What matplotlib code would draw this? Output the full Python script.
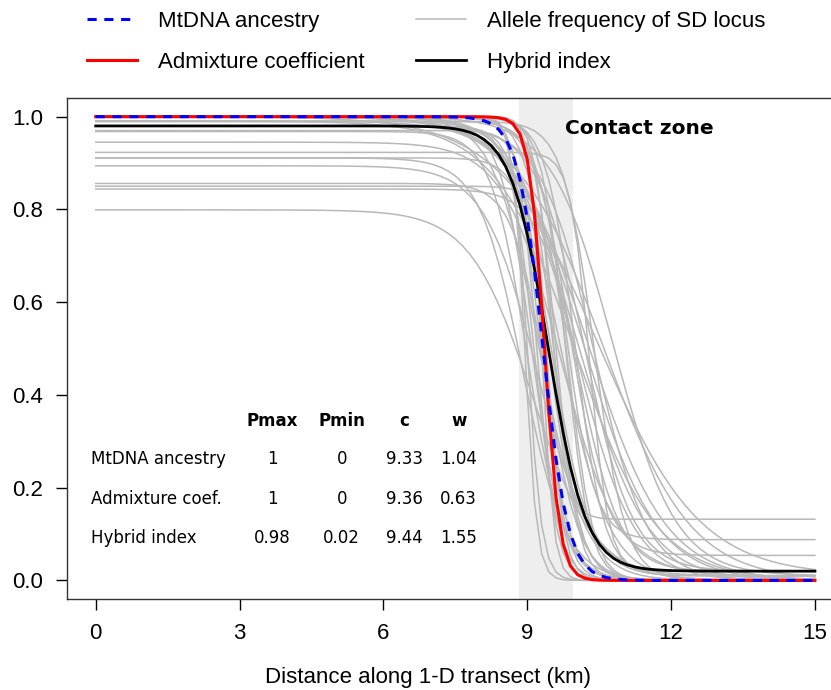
import numpy as np
import matplotlib.pyplot as plt
from matplotlib.lines import Line2D

# cline parameters (Pmax, Pmin, centre c, width w)
mt_par = [1.0, 0.0, 9.33, 1.04]
adm_par = [1.0, 0.0, 9.36, 0.63]
hyb_par = [0.98, 0.02, 9.44, 1.55]

# SD loci (estimated from the grey curves)
sd_pmax = [1.0, 1.0, 1.0, 1.0, 1.0, 1.0, 0.99, 0.99, 0.98, 0.98,
           0.968, 0.945, 0.923, 0.911, 0.911, 0.894, 0.856, 0.85, 0.844, 0.799,
           1.0, 0.99, 1.0, 1.0, 1.0, 0.99, 1.0, 1.0, 0.97, 1.0,
           1.0, 0.98, 1.0, 0.99, 1.0,
           1.0, 1.0, 0.99, 1.0, 0.98]
sd_pmin = [0.0, 0.0, 0.0, 0.0, 0.0, 0.01, 0.0, 0.01, 0.0, 0.02,
           0.0, 0.01, 0.02, 0.0, 0.0, 0.01, 0.0, 0.0, 0.02, 0.0,
           0.132, 0.088, 0.054, 0.01, 0.0, 0.0, 0.0, 0.0, 0.0, 0.0,
           0.0, 0.0, 0.0, 0.0, 0.0,
           0.0, 0.0, 0.0, 0.01, 0.0]
sd_c = [9.0, 9.2, 9.4, 9.6, 9.8, 10.0, 9.1, 9.5, 9.3, 10.2,
        9.0, 9.7, 10.3, 8.9, 9.5, 9.2, 9.4, 9.9, 10.1, 9.1,
        9.5, 9.8, 9.9, 10.5, 10.3, 10.1, 8.95, 9.3, 9.35, 9.7,
        10.0, 9.15, 9.55, 10.4, 9.25,
        10.2, 10.6, 10.0, 10.8, 10.4]
sd_w = [0.6, 0.8, 0.7, 0.9, 1.0, 1.2, 1.3, 1.6, 1.1, 2.0,
        1.5, 2.4, 0.8, 1.8, 1.2, 2.2, 1.4, 1.0, 1.7, 2.6,
        0.7, 1.2, 1.5, 4.2, 3.2, 2.8, 0.5, 0.5, 0.9, 2.0,
        2.4, 1.0, 1.1, 1.3, 1.9,
        3.0, 3.6, 3.4, 2.6, 2.2]

row_names = ['MtDNA ancestry', 'Admixture coef.', 'Hybrid index']
col_names = ['Pmax', 'Pmin', 'c', 'w']
tab_vals = [['1', '0', '9.33', '1.04'],
            ['1', '0', '9.36', '0.63'],
            ['0.98', '0.02', '9.44', '1.55']]

zone = [8.83, 9.95]


def cline(x, pmax, pmin, c, w):
    return pmin + (pmax - pmin) / (1 + np.exp(4 * (x - c) / w))


rfont = ['Liberation Sans', 'DejaVu Sans']
x = np.arange(0, 15.01, 0.15)

fig = plt.figure(figsize=(8.31, 6.9), dpi=100)
ax = fig.add_axes([0.0806, 0.1319, 0.9347, 0.7259])

ax.axvspan(zone[0], zone[1], color='#eeeeee', lw=0, zorder=0)

for i in range(len(sd_c)):
    ax.plot(x, cline(x, sd_pmax[i], sd_pmin[i], sd_c[i], sd_w[i]),
            color='#b8b8b8', lw=1.1, zorder=1)

ax.plot(x, cline(x, *hyb_par), color='black', lw=2, zorder=3)
ax.plot(x, cline(x, *adm_par), color='#ff0000', lw=2.2, zorder=4)
ax.plot(x, cline(x, *mt_par), color='#0000ff', lw=2.2, ls=(0, (3, 2.5)), zorder=5)

ax.text(9.78, 0.975, 'Contact zone', fontsize=14.5, fontweight='bold',
        va='center', ha='left', family='DejaVu Sans')

# parameter table
col_x = [3.69, 5.13, 6.43, 7.57]
row_y = [0.261, 0.176, 0.092]
for j, name in enumerate(col_names):
    ax.text(col_x[j], 0.343, name, fontsize=12, fontweight='bold',
            ha='center', va='center', family='DejaVu Sans')
for i, name in enumerate(row_names):
    ax.text(-0.1, row_y[i], name, fontsize=12, ha='left', va='center',
            family='DejaVu Sans')
    for j in range(4):
        ax.text(col_x[j], row_y[i], tab_vals[i][j], fontsize=12,
                ha='center', va='center', family='DejaVu Sans')

ax.set_xlim(-0.6, 15.6)
ax.set_ylim(-0.04, 1.04)
ax.set_xticks([0, 3, 6, 9, 12, 15])
ax.set_yticks([0.0, 0.2, 0.4, 0.6, 0.8, 1.0])
ax.set_yticklabels(['0.0', '0.2', '0.4', '0.6', '0.8', '1.0'])
ax.tick_params(length=8, width=1, pad=9, labelsize=16)
for lab in ax.get_xticklabels() + ax.get_yticklabels():
    lab.set_family(rfont)
fig.text(428 / 831, 1 - 677 / 690, 'Distance along 1-D transect (km)',
         fontsize=16, family=rfont, ha='center', va='center')
for sp in ax.spines.values():
    sp.set_linewidth(1)
    sp.set_color('#333333')

handles = [Line2D([], [], color='#0000ff', lw=2.2, ls=(0, (3, 2.5))),
           Line2D([], [], color='#ff0000', lw=2.2),
           Line2D([], [], color='#b8b8b8', lw=1.1),
           Line2D([], [], color='black', lw=2)]
labels = ['MtDNA ancestry', 'Admixture coefficient',
          'Allele frequency of SD locus', 'Hybrid index']
fig.legend(handles, labels, ncol=2, loc='upper left',
           bbox_to_anchor=(0.0966, 0.994), frameon=False,
           prop={'family': rfont, 'size': 16}, handlelength=2.25,
           handletextpad=0.95, columnspacing=2.3, labelspacing=0.92,
           borderpad=0.3, borderaxespad=0)

fig.savefig('out.png', dpi=100)
